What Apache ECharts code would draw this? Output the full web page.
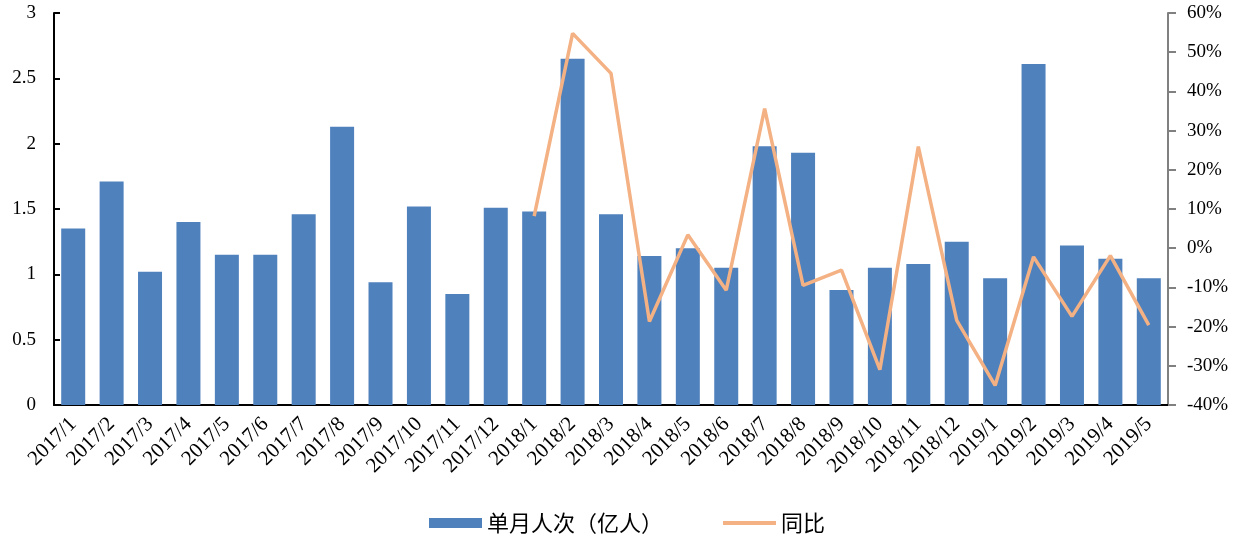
<!DOCTYPE html>
<html>
<head>
<meta charset="utf-8">
<script src="https://cdn.jsdelivr.net/npm/echarts@6/dist/echarts.min.js"></script>
<style>
  html, body { margin: 0; padding: 0; background: #fff; }
  #chart { width: 1240px; height: 538px; }
</style>
</head>
<body>
<div id="chart"></div>
<script>
const months = [
  "2017/1", "2017/2", "2017/3", "2017/4", "2017/5", "2017/6", "2017/7", "2017/8",
  "2017/9", "2017/10", "2017/11", "2017/12", "2018/1", "2018/2", "2018/3", "2018/4",
  "2018/5", "2018/6", "2018/7", "2018/8", "2018/9", "2018/10", "2018/11", "2018/12",
  "2019/1", "2019/2", "2019/3", "2019/4", "2019/5",
];

// 单月人次（亿人）
const trips = [
  1.35, 1.71, 1.02, 1.40, 1.15, 1.15, 1.46, 2.13,
  0.94, 1.52, 0.85, 1.51, 1.48, 2.65, 1.46, 1.14,
  1.20, 1.05, 1.98, 1.93, 0.88, 1.05, 1.08, 1.25,
  0.97, 2.61, 1.22, 1.12, 0.97,
];

// 同比 (%)
const yoy = [
  null, null, null, null, null, null, null, null,
  null, null, null, null, 8.2, 54.8, 44.6, -18.7,
  3.4, -10.7, 35.6, -9.5, -5.6, -31.0, 25.9, -18.4,
  -35.0, -2.2, -17.4, -1.9, -19.6,
];

const serif = "Liberation Serif";
const cjk = "Noto Sans CJK SC";

const chart = echarts.init(document.getElementById("chart"));

const option = {
  animation: false,
  grid: {
    left: 54,
    right: 72,
    top: 13,
    bottom: 133,
  },
  legend: {
    top: 507,
    left: 424,
    itemWidth: 53,
    itemHeight: 10,
    itemGap: 60,
    textStyle: {
      fontFamily: cjk,
      fontSize: 22,
      color: "#000",
    },
    data: [
      { name: "单月人次（亿人）", icon: "rect" },
      { name: "同比", icon: "path://M0,0 L53,0 L53,4 L0,4 Z" },
    ],
  },
  xAxis: {
    type: "category",
    data: months,
    axisLine: { lineStyle: { color: "#000", width: 2 } },
    axisTick: {
      inside: true,
      length: 7,
      lineStyle: { color: "#000", width: 2 },
    },
    axisLabel: {
      rotate: 45,
      interval: 0,
      margin: 16,
      fontFamily: serif,
      fontSize: 21,
      color: "#000",
    },
  },
  yAxis: [
    {
      type: "value",
      min: 0,
      max: 3,
      interval: 0.5,
      splitLine: { show: false },
      axisLine: { show: true, lineStyle: { color: "#000", width: 2 } },
      axisTick: {
        show: true,
        inside: true,
        length: 6,
        lineStyle: { color: "#000", width: 2 },
      },
      axisLabel: {
        margin: 18,
        fontFamily: serif,
        fontSize: 19,
        color: "#000",
      },
    },
    {
      type: "value",
      min: -40,
      max: 60,
      interval: 10,
      splitLine: { show: false },
      axisLine: { show: true, lineStyle: { color: "#808080", width: 2 } },
      axisTick: {
        show: true,
        length: 8,
        lineStyle: { color: "#808080", width: 2 },
      },
      axisLabel: {
        margin: 19,
        fontFamily: serif,
        fontSize: 19,
        color: "#000",
        formatter: "{value}%",
      },
    },
  ],
  series: [
    {
      name: "单月人次（亿人）",
      type: "bar",
      data: trips,
      barWidth: 24,
      itemStyle: { color: "#4F81BD" },
    },
    {
      name: "同比",
      type: "line",
      yAxisIndex: 1,
      data: yoy,
      symbol: "none",
      lineStyle: { color: "#F4B183", width: 3.5 },
      itemStyle: { color: "#F4B183" },
    },
  ],
};

chart.setOption(option);
</script>
</body>
</html>
